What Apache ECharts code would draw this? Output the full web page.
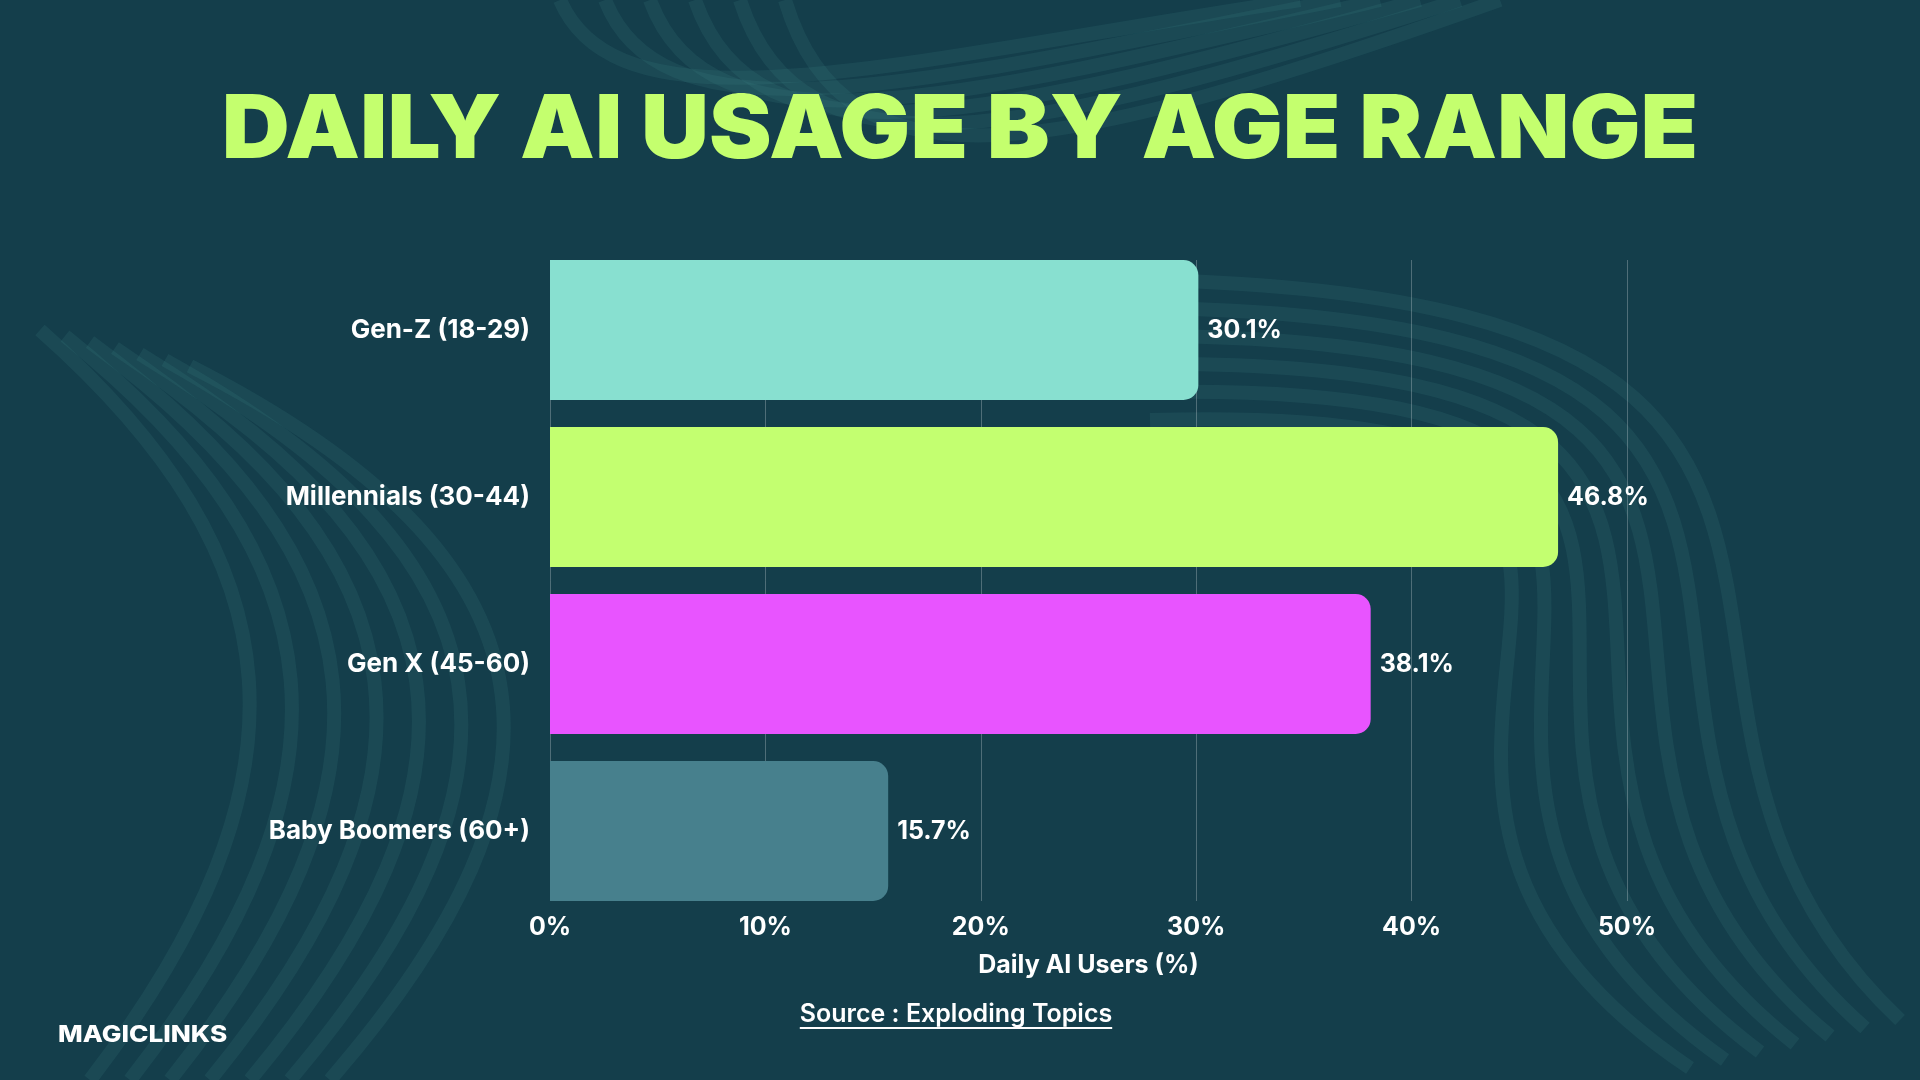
<!DOCTYPE html>
<html lang="en">
<head>
    <meta charset="UTF-8">
    <title>Daily AI Usage by Age Range</title>
    <script type="text/javascript" src="https://cdn.jsdelivr.net/npm/echarts@6/dist/echarts.min.js"></script>
    <style>
        html, body { margin: 0; padding: 0; background: #143e4b; }
        #chartmain { width: 1920px; height: 1080px; }
    </style>
</head>

<body>
<div id="chartmain"></div>
<script>
    // data
    var categories = ['Gen-Z (18-29)', 'Millennials (30-44)', 'Gen X (45-60)', 'Baby Boomers (60+)'];
    var values = [30.1, 46.8, 38.1, 15.7];
    var barColors = ['#88e0d0', '#c3ff70', '#e854ff', '#47808d'];
    var xTicks = [0, 10, 20, 30, 40, 50];

    var FONT = 'Inter, "Noto Sans", sans-serif';
    var waveStyle = { stroke: 'rgba(70,140,140,0.15)', lineWidth: 14, fill: null };

    // background waves (decoration only)
    var waves = [];
    var i;
    for (i = 0; i < 7; i++) {
        waves.push({
            type: 'bezierCurve', silent: true, z: -10,
            shape: { x1: 40 + i * 25, y1: 330 + i * 6, cpx1: 300 + i * 45, cpy1: 560,
                     cpx2: 320 + i * 45, cpy2: 780, x2: 90 + i * 40, y2: 1080 },
            style: waveStyle
        });
    }
    for (i = 0; i < 7; i++) {
        waves.push({
            type: 'bezierCurve', silent: true, z: -10,
            shape: { x1: 1150, y1: 280 + i * 28, cpx1: 2000 - i * 25, cpy1: 300 + i * 20,
                     cpx2: 1560 - i * 55, cpy2: 700 + i * 10, x2: 1900 - i * 35, y2: 1020 + i * 8 },
            style: waveStyle
        });
    }
    for (i = 0; i < 6; i++) {
        waves.push({
            type: 'bezierCurve', silent: true, z: -10,
            shape: { x1: 560 + i * 45, y1: 0, cpx1: 620 + i * 45, cpy1: 140 + i * 12,
                     cpx2: 900 + i * 30, cpy2: 60 + i * 20, x2: 1300 + i * 40, y2: 0 },
            style: waveStyle
        });
    }

    // width of the source line for its underline
    var ctx = document.createElement('canvas').getContext('2d');
    ctx.font = '600 25px ' + FONT;
    var srcText = 'Source : Exploding Topics';
    var srcW = ctx.measureText(srcText).width;

    var option = {
        backgroundColor: '#143e4b',
        textStyle: { fontFamily: FONT },
        graphic: waves.concat([
            {
                type: 'text', x: 960, y: 132, scaleX: 1.07,
                style: { text: 'DAILY AI USAGE BY AGE RANGE', fill: '#c4ff6e',
                         font: '900 88px ' + FONT, textAlign: 'center', textVerticalAlign: 'middle' }
            },
            {
                type: 'text', x: 956, y: 1014,
                style: { text: srcText, fill: '#ffffff', font: '600 25px ' + FONT,
                         textAlign: 'center', textVerticalAlign: 'middle' }
            },
            {
                type: 'line', shape: { x1: 956 - srcW / 2, y1: 1028, x2: 956 + srcW / 2, y2: 1028 },
                style: { stroke: '#ffffff', lineWidth: 2 }
            },
            {
                type: 'text', x: 58, y: 1035, scaleX: 1.14,
                style: { text: 'MAGICLINKS', fill: '#ffffff', font: '800 23px ' + FONT,
                         textVerticalAlign: 'middle' }
            }
        ]),
        grid: [
            { left: 550, top: 260, width: 1077, height: 641 },
            { left: 550, top: 330, width: 1077, height: 501 }
        ],
        xAxis: [
            {
                gridIndex: 0, type: 'value', min: xTicks[0], max: xTicks[xTicks.length - 1], interval: 10,
                axisLine: { show: false }, axisTick: { show: false },
                splitLine: { show: true, lineStyle: { color: 'rgba(255,255,255,0.25)', width: 1 } },
                axisLabel: { formatter: '{value}%', color: '#ffffff', fontSize: 25, fontWeight: 700, margin: 14 },
                name: 'Daily AI Users (%)', nameLocation: 'middle', nameGap: 52,
                nameTextStyle: { color: '#ffffff', fontSize: 25, fontWeight: 700 }
            },
            {
                gridIndex: 1, type: 'value', min: xTicks[0], max: xTicks[xTicks.length - 1], show: false
            }
        ],
        yAxis: [
            { gridIndex: 0, type: 'value', show: false, min: 0, max: 1 },
            {
                gridIndex: 1, type: 'category', data: categories, inverse: true, boundaryGap: false,
                axisLine: { show: false }, axisTick: { show: false }, splitLine: { show: false },
                axisLabel: { color: '#ffffff', fontSize: 26, fontWeight: 700, margin: 20 }
            }
        ],
        series: [
            {
                type: 'bar', xAxisIndex: 1, yAxisIndex: 1, barWidth: 140, clip: false,
                data: values.map(function (v, k) {
                    return { value: v, itemStyle: { color: barColors[k] } };
                }),
                itemStyle: { borderRadius: [0, 15, 15, 0] },
                label: { show: true, position: 'right', distance: 9, formatter: '{c}%',
                         color: '#ffffff', fontSize: 25, fontWeight: 700 }
            }
        ]
    };

    var myChart = echarts.init(document.getElementById('chartmain'));
    myChart.setOption(option);
</script>
</body>
</html>
